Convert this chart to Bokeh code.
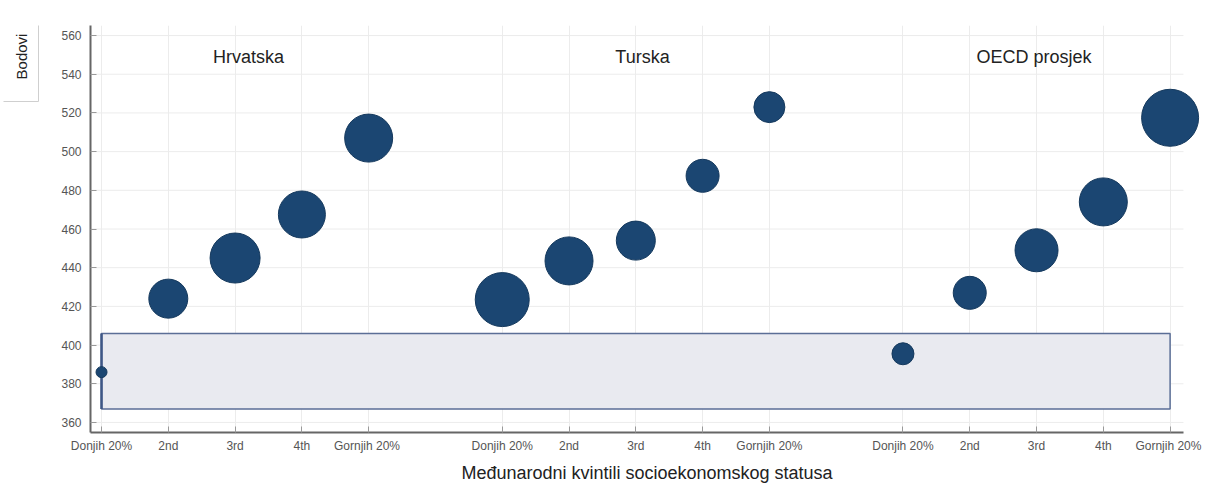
import math
from bokeh.plotting import figure
from bokeh.layouts import row
from bokeh.models import FixedTicker, Label, ColumnDataSource
from bokeh.embed import file_html
from bokeh.resources import INLINE

# ---- data ----
groups = ["Hrvatska", "Turska", "OECD  prosjek"]
quintile_labels = [
    ["Donjih 20%", "2nd", "3rd", "4th", "Gornjih  20%"],
    ["Donjih 20%", "2nd", "3rd", "4th", "Gornjih 20%"],
    ["Donjih 20%", "2nd", "3rd", "4th", "Gornjih  20%"],
]
hrvatska_scores = [386, 424, 445, 467.5, 507]
turska_scores = [423.5, 443.5, 454, 487.5, 523]
oecd_scores = [395.5, 427, 449, 474, 517.5]
hrvatska_sizes = [11, 39, 50, 47, 48]
turska_sizes = [54, 48, 39, 33, 31]
oecd_sizes = [22, 33, 43, 48, 57]
band_low, band_high = 367, 406
y_ticks = [360, 380, 400, 420, 440, 460, 480, 500, 520, 540, 560]
y_title = "Bodovi"
x_title = "Međunarodni kvintili socioekonomskog statusa"

scores = [hrvatska_scores, turska_scores, oecd_scores]
sizes = [hrvatska_sizes, turska_sizes, oecd_sizes]

# ---- layout helpers ----
xs, ys, ss, tick_pos, overrides = [], [], [], [], {}
for g in range(len(groups)):
    for q in range(5):
        pos = g * 6 + q
        xs.append(pos)
        ys.append(scores[g][q])
        ss.append(sizes[g][q])
        tick_pos.append(pos)
        overrides[pos] = quintile_labels[g][q]

FONT = "Liberation Sans"
TOTAL_W, TOTAL_H = 1213, 485
SIDE_W = 40
TOP, BOTTOM = 25, 53
x_start, x_end = -0.165, 16.5
y_start, y_end = 354.8, 565.2
grid_end = 16.2

# ---- narrow side panel holding the "Bodovi" box (page-pixel coordinates) ----
side = figure(width=SIDE_W, height=TOTAL_H, output_backend="svg", toolbar_location=None,
              title_location=None,
              x_range=(0, SIDE_W), y_range=(TOTAL_H - BOTTOM, TOP),
              x_axis_type=None, y_axis_type=None,
              min_border_left=0, min_border_right=0, min_border_top=TOP,
              min_border_bottom=BOTTOM)
side.outline_line_color = None
side.xgrid.visible = False
side.ygrid.visible = False
BOX_L, BOX_R, BOX_T, BOX_B = 3, 38, 6, 101
side.segment(x0=[BOX_R, BOX_L], y0=[BOX_T, BOX_B], x1=[BOX_R, BOX_R], y1=[BOX_B, BOX_B],
             line_color="#cfcfcf", line_width=1)
side.add_layout(Label(x=21, y=56, text=y_title, angle=math.pi / 2, text_align="center",
                      text_baseline="middle", text_font=FONT, text_font_size="15px",
                      text_color="#222222"))

# ---- main chart ----
p = figure(width=TOTAL_W - SIDE_W, height=TOTAL_H, output_backend="svg", toolbar_location=None,
           x_range=(x_start, x_end), y_range=(y_start, y_end),
           min_border_left=90 - SIDE_W, min_border_right=10, min_border_top=TOP,
           min_border_bottom=BOTTOM)
p.outline_line_color = None
p.background_fill_color = "white"

# grids
p.xgrid.ticker = FixedTicker(ticks=tick_pos)
p.xgrid.grid_line_color = "#ececec"
p.ygrid.visible = False
p.segment(x0=[x_start] * len(y_ticks), x1=[grid_end] * len(y_ticks), y0=y_ticks, y1=y_ticks,
          line_color="#ececec", line_width=1)

# band
p.quad(left=[tick_pos[0]], right=[tick_pos[-1]], bottom=[band_low], top=[band_high],
       fill_color="#e9eaf0", line_color="#5b6e96", line_width=1.5)
p.segment(x0=[tick_pos[0]], x1=[tick_pos[0]], y0=[band_low], y1=[band_high],
          line_color="#3e5786", line_width=2.5)

# bubbles
src = ColumnDataSource(dict(x=xs, y=ys, s=ss))
p.scatter("x", "y", size="s", source=src, fill_color="#1b4672", line_color="#15395d", line_width=1)

# group labels
label_offsets = [2.2, 2.1, 2.0]
for g, name in enumerate(groups):
    p.add_layout(Label(x=g * 6 + label_offsets[g], y=549, text=name, text_align="center",
                       text_baseline="middle", text_font=FONT, text_font_size="18px",
                       text_color="#222222"))

# axes
for ax in (p.xaxis[0], p.yaxis[0]):
    ax.axis_line_color = "#666666"
    ax.axis_line_width = 2
    ax.major_tick_in = 6
    ax.major_tick_out = 0
    ax.major_tick_line_color = "#999999"
    ax.minor_tick_line_color = None
    ax.major_label_text_font = FONT
    ax.major_label_text_color = "#555555"

p.xaxis.major_label_text_font_size = "12px"
p.yaxis.major_label_text_font_size = "12px"

p.xaxis.ticker = FixedTicker(ticks=tick_pos)
p.xaxis.major_label_overrides = overrides
p.xaxis.bounds = (x_start, grid_end)
p.xaxis.major_label_standoff = 6
p.xaxis.axis_label = x_title
p.xaxis.axis_label_text_font = FONT
p.xaxis.axis_label_text_font_size = "18px"
p.xaxis.axis_label_text_font_style = "normal"
p.xaxis.axis_label_text_color = "#222222"
p.xaxis.axis_label_standoff = 7

p.yaxis.ticker = FixedTicker(ticks=y_ticks)
p.yaxis.major_label_standoff = 9

layout = row(side, p)
open("out.html", "w").write(file_html(layout, INLINE))
